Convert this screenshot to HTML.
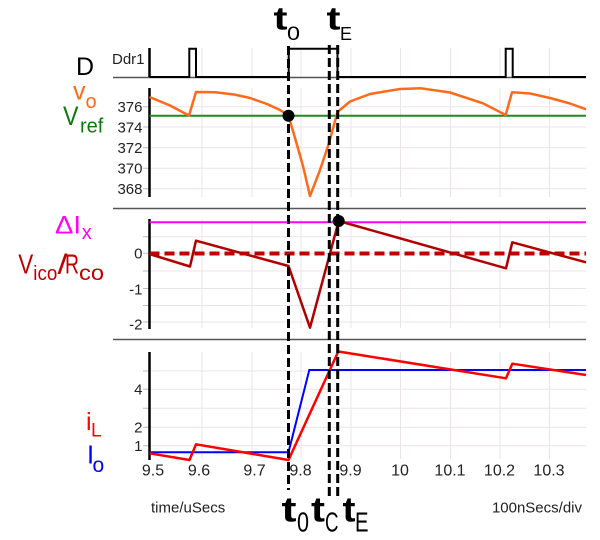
<!DOCTYPE html>
<html><head><meta charset="utf-8"><style>
html,body{margin:0;padding:0;background:#fff;}
svg{display:block;}
text{font-family:"Liberation Sans",Arial,sans-serif;}
</style></head><body>
<svg width="600" height="540" viewBox="0 0 600 540" xmlns="http://www.w3.org/2000/svg">
<rect width="600" height="540" fill="#fff"/>
<!-- grid -->
<g stroke="#ebe3ea" stroke-width="1" fill="none">
<path d="M202 48V77M252 48V77M301 48V77M351 48V77M400.5 48V77M450.5 48V77M500 48V77M549.5 48V77"/>
<path d="M202 88V197M252 88V197M301 88V197M351 88V197M400.5 88V197M450.5 88V197M500 88V197M549.5 88V197"/>
<path d="M202 219V328M252 219V328M301 219V328M351 219V328M400.5 219V328M450.5 219V328M500 219V328M549.5 219V328"/>
<path d="M202 352V459M252 352V459M301 352V459M351 352V459M400.5 352V459M450.5 352V459M500 352V459M549.5 352V459"/>
<path d="M149 106.7H586M149 127H586M149 147.7H586M149 168.3H586M149 188.7H586"/>
<path d="M149 236.7H586M149 253.3H586M149 271H586M149 288.5H586M149 305.5H586M149 322H586"/>
<path d="M149 371H586M149 389.3H586M149 408.3H586M149 427.3H586M149 445.7H586"/>
</g>
<!-- tick marks -->
<g stroke="#bbb" stroke-width="1">
<path d="M143 106.7H149M143 127H149M143 147.7H149M143 168.3H149M143 188.7H149"/>
<path d="M143 236.7H149M143 253.3H149M143 271H149M143 288.5H149M143 305.5H149M143 322H149"/>
<path d="M143 371H149M143 389.3H149M143 408.3H149M143 427.3H149M143 445.7H149"/>
</g>
<!-- separators -->
<path d="M113 77.5H586M113 208.5H586M113 339.5H586" stroke="#555" stroke-width="1.5" fill="none"/>
<!-- axes -->
<path d="M149.5 48V77M149.5 88V197M149.5 219V329M149.5 352V460" stroke="#000" stroke-width="2.5" fill="none"/>
<!-- D signal -->
<path d="M149.5 77H189.3V48.7H196V77H288.7V48.7H337.5V77H505.7V48.7H512.7V77H586" stroke="#000" stroke-width="2" fill="none"/>
<!-- Vref -->
<path d="M149.5 115.7H586" stroke="#1f8a1f" stroke-width="2" fill="none"/>
<!-- vo -->
<polyline fill="none" stroke="#ff6a1a" stroke-width="2.5" stroke-linejoin="round" points="149.5,97 170,105.5 189,115.5 196,92 215,92.3 234,94.5 250,98 267,104 280,110 288.5,115.7 295,138 303,166 310,196 320,170 329,143 337.5,112 350,101.5 370,94 400,89 421,88.3 450,92.5 483,103.3 505.7,115 512,92.3 530,93.5 550,98 570,103.5 586,109.3"/>
<!-- delta Ix -->
<path d="M149.5 222.3H586" stroke="#ff00ff" stroke-width="2" fill="none"/>
<!-- zero dashed -->
<path d="M149.5 253.5H586" stroke="#c00000" stroke-width="4" stroke-dasharray="10 5" fill="none"/>
<!-- Vico/Rco -->
<polyline fill="none" stroke="#b00000" stroke-width="2.5" stroke-linejoin="round" points="149.5,254 190,266.5 196,240.7 288.5,266 310,327.7 338.7,221 506,268.3 512.3,242.3 586,262.3"/>
<!-- Io -->
<polyline fill="none" stroke="#0000ff" stroke-width="2" points="149.5,452.3 288.5,452.3 309.3,370 586,370"/>
<!-- iL -->
<polyline fill="none" stroke="#ff0000" stroke-width="2.5" stroke-linejoin="round" points="149.5,453.3 189.5,460 196,444.3 288.5,460 338.3,351.5 506,378.3 512.3,363.7 586,375"/>
<!-- vertical dashed markers -->
<g stroke="#000" stroke-width="3" stroke-dasharray="9 4" fill="none">
<path d="M288.5 46V490"/>
<path d="M329.3 45V500"/>
<path d="M337.7 45V500"/>
</g>
<circle cx="288.5" cy="115.7" r="6" fill="#000"/>
<circle cx="338.7" cy="221" r="6" fill="#000"/>
<!-- tick labels -->
<g font-size="15" fill="#222" text-anchor="end">
<text x="142.5" y="112.1">376</text>
<text x="142.5" y="132.4">374</text>
<text x="142.5" y="153.1">372</text>
<text x="142.5" y="173.7">370</text>
<text x="142.5" y="194.1">368</text>
<text x="142.5" y="258.7">0</text>
<text x="142.5" y="294.7">-1</text>
<text x="142.5" y="329.4">-2</text>
<text x="142.5" y="394.7">4</text>
<text x="142.5" y="432.7">2</text>
<text x="142.5" y="451.1">1</text>
</g>
<text x="112" y="64" font-size="15" fill="#222">Ddr1</text>
<g font-size="16" fill="#222" text-anchor="middle">
<text x="153" y="475.5">9.5</text>
<text x="199" y="475.5">9.6</text>
<text x="254.5" y="475.5">9.7</text>
<text x="300.5" y="475.5">9.8</text>
<text x="350.5" y="475.5">9.9</text>
<text x="400" y="475.5">10</text>
<text x="450" y="475.5">10.1</text>
<text x="499.5" y="475.5">10.2</text>
<text x="549" y="475.5">10.3</text>
</g>
<text x="151" y="512.3" font-size="15" fill="#222">time/uSecs</text>
<text x="582" y="512.3" font-size="15" fill="#222" text-anchor="end">100nSecs/div</text>
<!-- left big labels -->
<text x="76" y="75" font-size="25" fill="#000">D</text>
<text x="73" y="99.3" font-size="25" fill="#ff6a1a">v</text>
<text x="85.5" y="108" font-size="20" fill="#ff6a1a">o</text>
<text x="63" y="125" font-size="26.5" fill="#117711" textLength="15.5" lengthAdjust="spacingAndGlyphs">V</text>
<text x="80" y="132.7" font-size="20" fill="#117711">ref</text>
<text x="55" y="233.3" font-size="25" fill="#ff00ff" textLength="26" lengthAdjust="spacingAndGlyphs">ΔI</text>
<text x="81.7" y="239" font-size="20" fill="#ff00ff">x</text>
<text x="18.3" y="273.3" font-size="28" fill="#c00000" textLength="15" lengthAdjust="spacingAndGlyphs">V</text>
<text x="33.3" y="280" font-size="20" fill="#c00000" textLength="24" lengthAdjust="spacingAndGlyphs">ico</text>
<text x="57.5" y="273.3" font-size="28" fill="#c00000" textLength="10" lengthAdjust="spacingAndGlyphs">/</text>
<text x="65" y="273.3" font-size="28" fill="#c00000" textLength="14" lengthAdjust="spacingAndGlyphs">R</text>
<text x="79" y="280" font-size="21" fill="#c00000" textLength="25" lengthAdjust="spacingAndGlyphs">co</text>
<text x="86" y="430" font-size="25" fill="#ff0000">i</text>
<text x="91" y="436.7" font-size="19" fill="#ff0000">L</text>
<text x="87" y="463.3" font-size="25.5" fill="#0000ff">I</text>
<text x="92.5" y="472" font-size="21" fill="#0000ff">o</text>
<!-- top t labels -->
<text x="273.5" y="29.3" font-size="32" font-weight="bold" fill="#000" textLength="14" lengthAdjust="spacingAndGlyphs">t</text>
<text x="287" y="40" font-size="19" fill="#000" textLength="13" lengthAdjust="spacingAndGlyphs">0</text>
<text x="326.5" y="29.3" font-size="32" font-weight="bold" fill="#000" textLength="14" lengthAdjust="spacingAndGlyphs">t</text>
<text x="340" y="40" font-size="18.5" fill="#000" textLength="12" lengthAdjust="spacingAndGlyphs">E</text>
<!-- bottom t labels -->
<text x="281.5" y="521.7" font-size="35" font-weight="bold" fill="#000" textLength="15" lengthAdjust="spacingAndGlyphs">t</text>
<text x="297" y="531.7" font-size="28" fill="#000" textLength="12" lengthAdjust="spacingAndGlyphs">0</text>
<text x="311" y="521.7" font-size="35" font-weight="bold" fill="#000" textLength="14" lengthAdjust="spacingAndGlyphs">t</text>
<text x="325" y="531.7" font-size="28" fill="#000" textLength="13.5" lengthAdjust="spacingAndGlyphs">C</text>
<text x="342.5" y="521.7" font-size="35" font-weight="bold" fill="#000" textLength="13" lengthAdjust="spacingAndGlyphs">t</text>
<text x="355" y="531.7" font-size="28" fill="#000" textLength="13.5" lengthAdjust="spacingAndGlyphs">E</text>
</svg>
</body></html>
